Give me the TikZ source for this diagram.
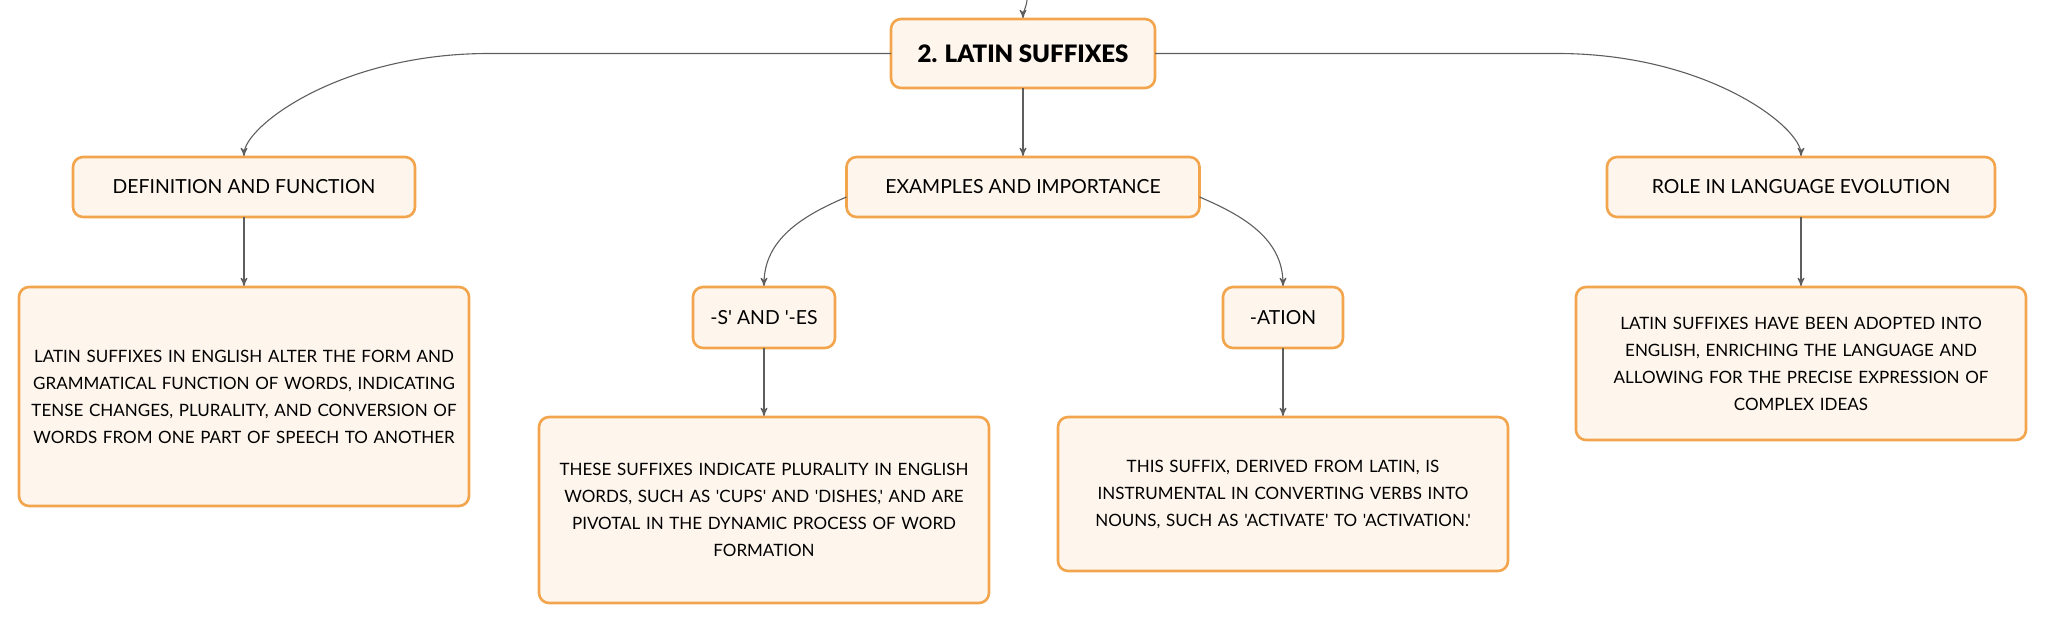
\documentclass[tikz,border=0pt]{standalone}
\usepackage{fontspec}
\setmainfont{Lato}[Ligatures=TeXOff]
\newfontfamily\blackfont{Lato Black}
\usetikzlibrary{arrows,positioning}

\definecolor{boxfill}{HTML}{FEF5EC}
\definecolor{boxline}{HTML}{F2A54C}
\definecolor{linkgray}{HTML}{5E5E5E}

\begin{document}
\begin{tikzpicture}[x=0.5pt,y=-0.5pt,>=stealth',
                    base box/.style={rectangle,rounded corners=5pt,draw=boxline,line width=1.3pt,
                                     fill=boxfill,align=center,inner sep=0pt,outer sep=0pt},
                    root box/.style={base box,minimum width=132pt,minimum height=34.5pt,font=\fontsize{12}{14}\selectfont\blackfont},
                    topic box/.style={base box,minimum height=30pt,font=\fontsize{9.7}{12}\selectfont},
                    text box/.style={base box,text width=225pt,font=\fontsize{8.5}{13.5}\selectfont},
                    link/.style={->,draw=linkgray,line width=0.55pt,shorten >=0.5pt}]
  \useasboundingbox (0,0) rectangle (2046,624);
  % main branch
  \node[root box] (root) at (1023,53.5) {2. LATIN SUFFIXES};
  \coordinate (up) at (1027,0);
  \node[topic box,minimum width=176.5pt] (examples) [below=34.5pt of root] {EXAMPLES AND IMPORTANCE};
  \node[topic box,minimum width=171pt] (definition) [below=34.5pt of root,xshift=-389.5pt] {DEFINITION AND FUNCTION};
  \node[topic box,minimum width=194pt] (role) [below=34.5pt of root,xshift=389pt] {ROLE IN LANGUAGE EVOLUTION};
  % sub topics
  \node[topic box,minimum width=71pt,minimum height=30.5pt] (plural) [below=35pt of examples,xshift=-129.5pt] {-S' AND '-ES};
  \node[topic box,minimum width=60pt,minimum height=30.5pt] (ation) [below=35pt of examples,xshift=130pt] {-ATION};
  % descriptions
  \node[text box,minimum height=109.5pt] (definition text) [below=35pt of definition]
    {LATIN SUFFIXES IN ENGLISH ALTER THE FORM AND\\ GRAMMATICAL FUNCTION OF WORDS, INDICATING\\
     TENSE CHANGES, PLURALITY, AND CONVERSION OF\\ WORDS FROM ONE PART OF SPEECH TO ANOTHER};
  \node[text box,minimum height=93pt] (plural text) [below=34.5pt of plural]
    {THESE SUFFIXES INDICATE PLURALITY IN ENGLISH\\ WORDS, SUCH AS 'CUPS' AND 'DISHES,' AND ARE\\
     PIVOTAL IN THE DYNAMIC PROCESS OF WORD\\ FORMATION};
  \node[text box,minimum height=77pt] (ation text) [below=34.5pt of ation]
    {THIS SUFFIX, DERIVED FROM LATIN, IS\\ INSTRUMENTAL IN CONVERTING VERBS INTO\\
     NOUNS, SUCH AS 'ACTIVATE' TO 'ACTIVATION.'};
  \node[text box,minimum height=76.5pt] (role text) [below=35pt of role]
    {LATIN SUFFIXES HAVE BEEN ADOPTED INTO\\ ENGLISH, ENRICHING THE LANGUAGE AND\\
     ALLOWING FOR THE PRECISE EXPRESSION OF\\ COMPLEX IDEAS};
  % connectors
  \draw[link] (up) to[out=265,in=90] (root.north);
  \draw[link] (root.west) -- ([xshift=122.5pt]definition.north |- root.west)
    .. controls +(-75pt,0pt) and +(0pt,15pt) .. (definition.north);
  \draw[link] (root.east) -- ([xshift=-122pt]role.north |- root.east)
    .. controls +(75pt,0pt) and +(0pt,15pt) .. (role.north);
  \draw[link] (root) -- (examples);
  \draw[link] ([yshift=-5pt]examples.west) to[out=203,in=90] (plural.north);
  \draw[link] ([yshift=-5pt]examples.east) to[out=-23,in=90] (ation.north);
  \draw[link] (definition) -- (definition text);
  \draw[link] (plural) -- (plural text);
  \draw[link] (ation) -- (ation text);
  \draw[link] (role) -- (role text);
\end{tikzpicture}
\end{document}
